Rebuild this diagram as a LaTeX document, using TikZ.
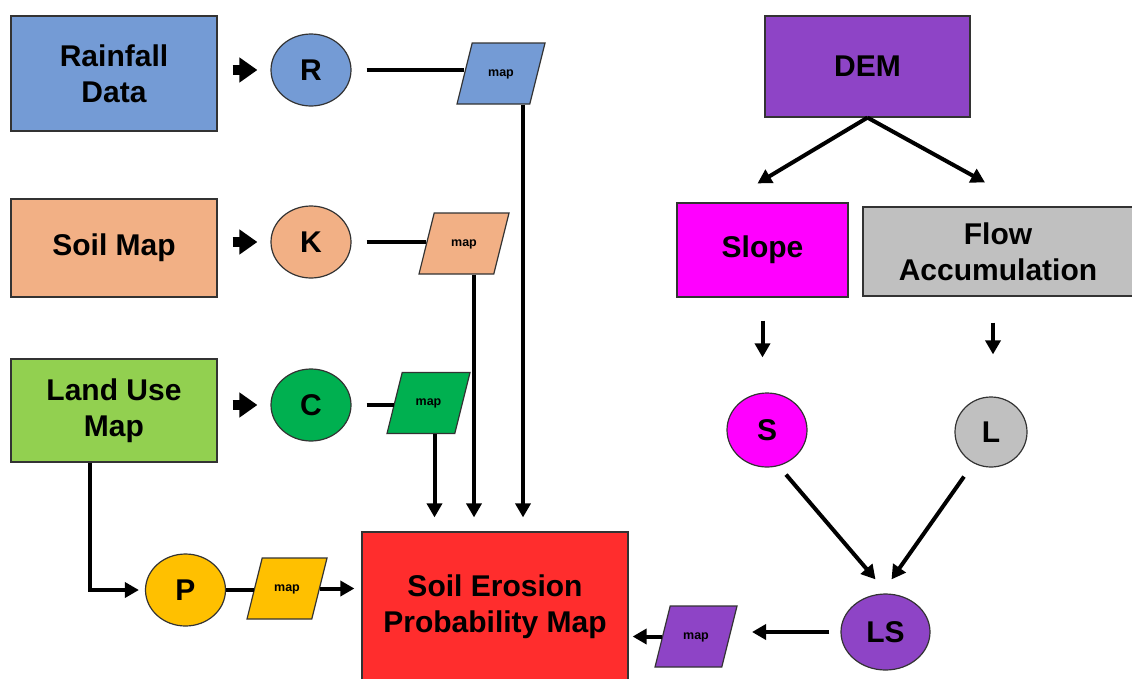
\documentclass[tikz,border=0pt]{standalone}
\usepackage{fontspec}
\setmainfont{Liberation Sans}
\usepackage{tikz}
\usetikzlibrary{arrows.meta,shapes.geometric}

\definecolor{rainblue}{RGB}{116,155,213}
\definecolor{soilpeach}{RGB}{242,176,133}
\definecolor{landgreen}{RGB}{146,208,80}
\definecolor{cgreen}{RGB}{0,176,80}
\definecolor{pyellow}{RGB}{255,192,0}
\definecolor{erored}{RGB}{255,45,45}
\definecolor{dempurple}{RGB}{142,68,198}
\definecolor{slopemag}{RGB}{255,0,255}
\definecolor{flowgray}{RGB}{192,192,192}

\begin{document}
\begin{tikzpicture}[
  x=1pt,y=-1pt,
  font=\bfseries\fontsize{30}{36}\selectfont,
  box/.style={draw=black!80,line width=1.2pt,align=center,inner sep=0pt},
  inbox/.style={box,minimum width=206pt},
  fac/.style={ellipse,draw=black!80,line width=1.2pt,minimum width=80pt,minimum height=72pt,inner sep=0pt},
  mapbox/.style={trapezium,trapezium left angle=76,trapezium right angle=104,trapezium stretches body,
    draw=black!80,line width=1.2pt,text height=8pt,text depth=3pt,inner ysep=25pt,inner xsep=0pt,
    minimum width=82pt,font=\bfseries\fontsize{12.5}{14}\selectfont},
  ln/.style={line width=4pt},
  arr/.style={line width=4pt,-{Triangle[length=14pt,width=15pt]}},
  blk/.style={line width=10pt,-{Triangle[length=18pt,width=24pt]}}
]
\useasboundingbox (0,0) rectangle (1132,678);

% USLE factor inputs
\node[inbox,fill=rainblue,minimum height=115pt] (rain) at (114,73.5) {Rainfall\\Data};
\node[inbox,fill=soilpeach,minimum height=98pt]  (soil) at (114,248) {Soil Map};
\node[inbox,fill=landgreen,minimum height=103pt] (land) at (114,410.5) {Land Use\\Map};

\node[fac,fill=rainblue]  (R) at (311,70)  {R};
\node[fac,fill=soilpeach] (K) at (311,242) {K};
\node[fac,fill=cgreen]    (C) at (311,405) {C};
\node[fac,fill=pyellow]   (P) at (185.5,590) {P};

\node[mapbox,fill=rainblue,minimum width=88pt]  (m1) at (501,73.5)  {map};
\node[mapbox,fill=soilpeach,minimum width=90pt] (m2) at (464,243.5) {map};
\node[mapbox,fill=cgreen,minimum width=83pt]    (m3) at (428.5,403) {map};
\node[mapbox,fill=pyellow,minimum width=80pt]   (m4) at (287,588.5) {map};
\node[mapbox,fill=dempurple,minimum width=82pt] (m5) at (696,636.5) {map};

\node[box,fill=erored,minimum width=266pt,minimum height=150pt] (ero) at (495,607) {Soil Erosion\\Probability Map};

% topographic branch
\node[box,fill=dempurple,minimum width=205pt,minimum height=101pt] (dem) at (867.5,66.5) {DEM};
\node[box,fill=slopemag,minimum width=171pt,minimum height=94pt] (slope) at (762.5,250) {Slope};
\node[box,fill=flowgray,minimum width=270pt,minimum height=89pt] (flow) at (998,251.5) {Flow\\Accumulation};

\node[fac,fill=slopemag,minimum height=74pt] (S) at (767,430) {S};
\node[fac,fill=flowgray,minimum width=72pt,minimum height=70pt] (L) at (991,432) {L};
\node[fac,fill=dempurple,minimum width=89pt,minimum height=76pt] (LS) at (885.5,632) {LS};

\draw[blk,shorten <=15pt,shorten >=13pt] (R.west -| rain.east) -- (R.west);
\draw[blk,shorten <=15pt,shorten >=13pt] (K.west -| soil.east) -- (K.west);
\draw[blk,shorten <=15pt,shorten >=13pt] (C.west -| land.east) -- (C.west);

\draw[ln,shorten <=15pt] (R.east) -- (R.east -| m1.west);
\draw[ln,shorten <=15pt] (K.east) -- (K.east -| m2.west);
\draw[ln,shorten <=15pt] (C.east) -- (C.east -| m3.west);

\draw[arr,shorten >=14pt] ([xshift=22pt]m1.south) -- ([xshift=22pt]m1.south |- ero.north);
\draw[arr,shorten >=14pt] ([xshift=10pt]m2.south) -- ([xshift=10pt]m2.south |- ero.north);
\draw[arr,shorten >=14pt] ([xshift=6pt]m3.south) -- ([xshift=6pt]m3.south |- ero.north);

\draw[arr,shorten >=6pt] ([xshift=-24pt]land.south) |- (P.west);
\draw[ln] (P.east) -- (P.east -| m4.west);
\draw[arr,shorten >=7pt] (m4.east) -- (m4.east -| ero.west);

\draw[arr] (dem.south) -- ([xshift=-5pt,yshift=19pt]slope.north);
\draw[arr] (dem.south) -- ([xshift=-13pt,yshift=24pt]flow.north);
\draw[arr,shorten <=23pt,shorten >=35pt] (slope.south) -- (slope.south |- S.north);
\draw[arr,shorten <=26pt,shorten >=42pt] ([xshift=-5pt]flow.south) -- ([xshift=-5pt]flow.south |- L.north);

\draw[arr] ([xshift=19pt,yshift=-7pt]S.south) -- ([xshift=-10pt,yshift=14pt]LS.north);
\draw[arr] ([xshift=-27pt,yshift=-9pt]L.south) -- ([xshift=6pt,yshift=14pt]LS.north);

\draw[arr,shorten <=11pt,shorten >=22pt] (LS.west) -- (LS.west -| m5.east);
\draw[arr,shorten >=4pt] (m5.west) -- (m5.west -| ero.east);
\end{tikzpicture}
\end{document}
